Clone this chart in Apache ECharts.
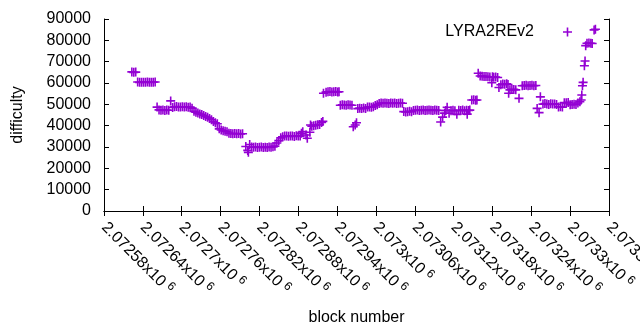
<!DOCTYPE html>
<html>
<head>
<meta charset="utf-8">
<script src="https://cdn.jsdelivr.net/npm/echarts@6/dist/echarts.min.js"></script>
<style>
html,body{margin:0;padding:0;background:#fff}
#chart{width:640px;height:330px}
</style>
</head>
<body>
<div id="chart"></div>
<script>
// block numbers (x) and difficulty (y)
var blockNumber = [
  2072623, 2072626, 2072629,
  2072632, 2072635, 2072638, 2072641, 2072644, 2072647, 2072650, 2072653, 2072656, 2072659,
  2072662, 2072665, 2072668, 2072671, 2072674, 2072677, 2072680,
  2072683,
  2072686, 2072689, 2072692, 2072695, 2072698, 2072701, 2072704, 2072707, 2072710, 2072713, 2072716,
  2072719, 2072722, 2072725, 2072728, 2072731, 2072734, 2072737, 2072740, 2072743, 2072746, 2072749, 2072752, 2072755,
  2072758, 2072761, 2072764, 2072767, 2072770,
  2072773, 2072776, 2072779, 2072782, 2072785, 2072788, 2072791, 2072794,
  2072799, 2072802, 2072803,
  2072805, 2072808, 2072811, 2072814, 2072817, 2072820, 2072823, 2072826, 2072829, 2072832, 2072835, 2072838, 2072841, 2072844,
  2072847, 2072850, 2072853,
  2072856, 2072859, 2072862, 2072865, 2072868, 2072871, 2072874, 2072877, 2072880, 2072883,
  2072885, 2072887, 2072892, 2072894, 2072898, 2072899,
  2072901, 2072904, 2072907, 2072910, 2072913, 2072916, 2072918,
  2072919,
  2072923, 2072926, 2072929, 2072932, 2072935, 2072938, 2072941, 2072943,
  2072945, 2072948, 2072951, 2072954, 2072957, 2072960, 2072963,
  2072965, 2072968, 2072970,
  2072972, 2072975, 2072978, 2072981, 2072984, 2072987, 2072990, 2072993, 2072996, 2072999, 2073002,
  2073005, 2073008, 2073011, 2073014, 2073017, 2073020, 2073023, 2073026, 2073029, 2073032, 2073035, 2073038, 2073041,
  2073043, 2073046, 2073049, 2073052, 2073055, 2073058, 2073061, 2073064, 2073067, 2073070, 2073073, 2073076, 2073079, 2073082, 2073085, 2073088, 2073091, 2073094, 2073097,
  2073100, 2073103, 2073106,
  2073108, 2073110, 2073113, 2073116, 2073119, 2073122, 2073125, 2073128, 2073131, 2073134, 2073137, 2073140, 2073141, 2073143, 2073145,
  2073148, 2073151, 2073154, 2073156,
  2073158, 2073161, 2073164, 2073167, 2073170, 2073173, 2073176, 2073179, 2073180, 2073182, 2073185, 2073188,
  2073190, 2073193, 2073196, 2073199, 2073202, 2073204,
  2073205, 2073207, 2073210, 2073213, 2073216,
  2073221,
  2073226, 2073229, 2073232, 2073235, 2073238, 2073241, 2073244, 2073247,
  2073249, 2073252, 2073254,
  2073258, 2073261, 2073264, 2073267, 2073270, 2073273, 2073276, 2073279,
  2073282, 2073285, 2073288,
  2073291, 2073294, 2073297,
  2073300, 2073303, 2073306, 2073309,
  2073312, 2073315, 2073317, 2073318, 2073319, 2073320, 2073322, 2073323,
  2073324, 2073326, 2073329, 2073332, 2073334,
  2073337, 2073339
];
var difficulty = [
  65200, 65000, 65100,
  60500, 60300, 60400, 60400, 60300, 60500, 60400, 60300, 60400, 60500,
  48700, 47400, 47200, 47300, 47100, 47300, 47200,
  51600,
  48500, 48900, 49000, 48800, 48700, 48900, 48800, 48900, 48600, 48700, 48200,
  46700, 46300, 45900, 45500, 45200, 44800, 44300, 43900, 43400, 42800, 41900, 41400, 40900,
  38500, 38000, 37600, 37400, 37200,
  36500, 36300, 36200, 36300, 36200, 36300, 36100, 36200,
  30200, 28400, 27500,
  31200, 30000, 29900, 30000, 29800, 29900, 30000, 29800, 29900, 29800, 30000, 29900, 30100, 30400,
  31900, 33000, 34300,
  34800, 35100, 35200, 35000, 35200, 35100, 34900, 35300, 35200, 35100,
  36400, 37200, 35600, 34100, 36900, 40300,
  39700, 40000, 40200, 40400, 40600, 41500, 42000,
  55200,
  55700, 55900, 56000, 55800, 55900, 56000, 55800, 55900,
  49600, 49800, 49700, 49600, 49800, 49700, 49600,
  39500, 40300, 41400,
  48000, 48200, 48000, 48300, 48100, 48700, 48800, 48600, 48900, 49500, 49800,
  50400, 50600, 50500, 50600, 50500, 50400, 50600, 50500, 50600, 50400, 50500, 50600, 50500,
  46600, 46400, 46500, 46700, 46500, 47100, 47200, 47300, 47100, 47200, 47300, 47100, 47200, 47300, 47200, 47100, 47300, 47200, 47100,
  41700, 44000, 45900,
  47100, 48600, 45800, 47000, 47200, 47000, 45300, 47200, 47100, 47300, 47000, 47200, 45400, 47100, 47300,
  52000, 52100, 51900, 52000,
  64600, 63300, 63200, 63000, 63100, 62900, 62800, 60100, 62900, 62700, 62800, 62600,
  57900, 59200, 59500, 59400, 59600, 59300,
  55200, 56800, 56900, 57000, 56800,
  52800,
  58700, 58800, 58900, 58700, 58800, 58900, 58700, 58800,
  48100, 46100, 53500,
  50100, 50400, 50200, 49900, 50300, 50100, 50200, 49900,
  48800, 48900, 48700,
  50800, 50700, 50900,
  49800, 49900, 50000, 49900,
  50600, 51200, 52000, 54400, 58700, 60300, 68100, 70300,
  77500, 78600, 78700, 78600, 78500,
  84900, 85200
];
var xMin = 2072580, xMax = 2073360, xStep = 60;
var yMin = 0, yMax = 90000, yStep = 10000;
var seriesName = 'LYRA2REv2';

// gnuplot style "+" point
var plus = 'path://M0,3.7H9V5.3H0Z M3.7,0H5.3V9H3.7Z';
var points = [];
for (var i = 0; i < blockNumber.length; i++) {
  points.push([blockNumber[i], difficulty[i]]);
}

function xLabel(v) {
  var m = +(v / 1e6).toFixed(5);
  return '{a|' + m + 'x10}{s|6}';
}

var axisLineStyle = {color: '#000', width: 1};
var option = {
  animation: false,
  backgroundColor: '#fff',
  textStyle: {fontFamily: 'Liberation Sans', color: '#000'},
  grid: {left: 104, right: 31, top: 19, bottom: 119, containLabel: false, outerBoundsMode: 'none'},
  legend: {
    data: [seriesName],
    right: 63, top: 19,
    align: 'right',
    icon: plus,
    itemWidth: 9, itemHeight: 9,
    itemStyle: {color: '#9400d3'},
    textStyle: {fontSize: 16, color: '#000', fontFamily: 'Liberation Sans', padding: [0, 24, 0, 0]}
  },
  xAxis: [{
    type: 'value', min: xMin, max: xMax, interval: xStep,
    name: 'block number', nameLocation: 'middle', nameGap: 99,
    nameTextStyle: {fontSize: 16, color: '#000'},
    splitLine: {show: false},
    axisLine: {lineStyle: axisLineStyle},
    axisTick: {inside: true, length: 5, lineStyle: axisLineStyle},
    axisLabel: {
      rotate: -45, margin: 14, formatter: xLabel,
      rich: {a: {fontSize: 16, color: '#000'}, s: {fontSize: 12, color: '#000', padding: [0, 0, 8, 4]}}
    }
  }, {
    type: 'value', position: 'top', min: xMin, max: xMax, interval: xStep,
    splitLine: {show: false},
    axisLine: {lineStyle: axisLineStyle},
    axisTick: {inside: true, length: 5, lineStyle: axisLineStyle},
    axisLabel: {show: false}
  }],
  yAxis: [{
    type: 'value', min: yMin, max: yMax, interval: yStep,
    name: 'difficulty', nameLocation: 'middle', nameGap: 78,
    nameTextStyle: {fontSize: 16, color: '#000'},
    splitLine: {show: false},
    axisLine: {show: true, lineStyle: axisLineStyle},
    axisTick: {show: true, inside: true, length: 5, lineStyle: axisLineStyle},
    axisLabel: {fontSize: 16, color: '#000', margin: 13, formatter: function (v) { return String(v); }}
  }, {
    type: 'value', position: 'right', min: yMin, max: yMax, interval: yStep,
    splitLine: {show: false},
    axisLine: {show: true, lineStyle: axisLineStyle},
    axisTick: {show: true, inside: true, length: 5, lineStyle: axisLineStyle},
    axisLabel: {show: false}
  }],
  series: [{
    name: seriesName,
    type: 'scatter',
    xAxisIndex: 0, yAxisIndex: 0,
    symbol: plus,
    symbolSize: 9,
    itemStyle: {color: '#9400d3', opacity: 1},
    data: points
  }]
};

var chart = echarts.init(document.getElementById('chart'));
chart.setOption(option);
</script>
</body>
</html>
